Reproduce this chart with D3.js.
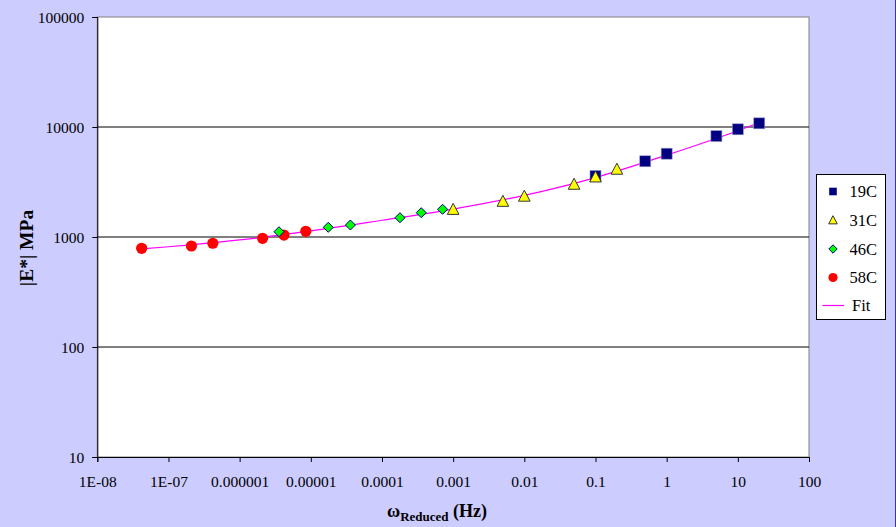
<!DOCTYPE html>
<html><head><meta charset="utf-8">
<script src="https://cdn.jsdelivr.net/npm/d3@7"></script>
<style>body{margin:0;padding:0;background:#ccccff;}svg{display:block;}</style>
</head><body>
<svg id="chart" width="896" height="527"></svg>
<script>
// Data
const freq19 = [0.1, 0.5, 1, 5, 10, 20];
const mod19  = [3590, 4880, 5720, 8270, 9530, 10800];
const freq31 = [0.001, 0.005, 0.01, 0.05, 0.1, 0.2];
const mod31  = [1790, 2120, 2360, 3030, 3530, 4150];
const freq46 = [3.57e-6, 1.76e-5, 3.6e-5, 1.79e-4, 3.56e-4, 7.1e-4];
const mod46  = [1117, 1225, 1285, 1497, 1663, 1786];
const freq58 = [4.2e-8, 2.1e-7, 4.2e-7, 2.1e-6, 4.2e-6, 8.5e-6];
const mod58  = [789, 828, 877, 973, 1042, 1127];
const fitFreq = [4.2e-8, 1e-7, 1e-6, 1e-5, 1e-4, 1e-3, 1e-2, 0.1, 1, 10, 20];
const fitMod  = [780, 815, 940, 1135, 1420, 1795, 2390, 3470, 5550, 9250, 10950];
const xTicks = [1e-8, 1e-7, 1e-6, 1e-5, 1e-4, 1e-3, 1e-2, 0.1, 1, 10, 100];
const xTickLabels = ["1E-08", "1E-07", "0.000001", "0.00001", "0.0001", "0.001", "0.01", "0.1", "1", "10", "100"];
const yTicks = [10, 100, 1000, 10000, 100000];
const yTickLabels = ["10", "100", "1000", "10000", "100000"];
const seriesNames = ["19C", "31C", "46C", "58C", "Fit"];

const svg = d3.select("#chart");
const W = 896, H = 527;
const L = 97.3, R = 809, T = 17, B = 457;
const font = "'Liberation Serif', 'Times New Roman', serif";

svg.append("rect").attr("width", W).attr("height", H).attr("fill", "#ccccff");
svg.append("line").attr("x1", 895.5).attr("x2", 895.5).attr("y1", 0).attr("y2", H)
  .attr("stroke", "#3333cc").attr("stroke-width", 1);

const x = d3.scaleLog().domain([1e-8, 100]).range([L, R]);
const y = d3.scaleLog().domain([10, 100000]).range([B, T]);

// plot area
svg.append("rect").attr("x", L).attr("y", T).attr("width", R - L).attr("height", B - T)
  .attr("fill", "#ffffff").attr("stroke", "#808080").attr("stroke-width", 1);

// gridlines
svg.append("g").selectAll("line").data([100, 1000, 10000]).join("line")
  .attr("x1", L).attr("x2", R).attr("y1", d => y(d)).attr("y2", d => y(d))
  .attr("stroke", "#000").attr("stroke-width", 1);

// axes
const xAxis = d3.axisBottom(x).tickValues(xTicks)
  .tickFormat((d, i) => xTickLabels[i]).tickSize(5);
const gx = svg.append("g").attr("transform", `translate(0,${B})`).call(xAxis);
gx.select(".domain").attr("stroke", "#000");
gx.selectAll(".tick line").attr("stroke", "#000");
gx.selectAll("text").attr("font-family", font).attr("font-size", 15.5).attr("fill", "#000")
  .attr("y", 30).attr("dy", 0);

const yAxis = d3.axisLeft(y).tickValues(yTicks)
  .tickFormat((d, i) => yTickLabels[i]).tickSize(5).tickPadding(8);
const gy = svg.append("g").attr("transform", `translate(${L},0)`).call(yAxis);
gy.select(".domain").attr("stroke", "#000");
gy.selectAll(".tick line").attr("stroke", "#000");
gy.selectAll("text").attr("font-family", font).attr("font-size", 15.5).attr("fill", "#000")
  .attr("dy", "0.35em");

// fit line
const fitData = fitFreq.map((f, i) => [f, fitMod[i]]);
svg.append("path").datum(fitData)
  .attr("d", d3.line().x(d => x(d[0])).y(d => y(d[1])).curve(d3.curveMonotoneX))
  .attr("fill", "none").attr("stroke", "#ff00ff").attr("stroke-width", 1.2);

const zip = (a, b) => a.map((v, i) => [v, b[i]]);
const plot = svg.append("g");

// 58C circles
plot.append("g").selectAll("circle").data(zip(freq58, mod58)).join("circle")
  .attr("cx", d => x(d[0])).attr("cy", d => y(d[1])).attr("r", 5.6)
  .attr("fill", "#ff0000");

// 46C diamonds
const diamond = s => `M0,${-s}L${s},0L0,${s}L${-s},0Z`;
plot.append("g").selectAll("path").data(zip(freq46, mod46)).join("path")
  .attr("transform", d => `translate(${x(d[0])},${y(d[1])})`)
  .attr("d", diamond(5)).attr("fill", "#00ff00").attr("stroke", "#000080").attr("stroke-width", 1);

// 19C squares
plot.append("g").selectAll("rect").data(zip(freq19, mod19)).join("rect")
  .attr("x", d => x(d[0]) - 5.5).attr("y", d => y(d[1]) - 5.5)
  .attr("width", 11).attr("height", 11)
  .attr("fill", "#000080").attr("stroke", "#9999cc").attr("stroke-width", 0.6);

// 31C triangles
const tri = s => `M0,${-s}L${s},${s * 0.9}L${-s},${s * 0.9}Z`;
plot.append("g").selectAll("path").data(zip(freq31, mod31)).join("path")
  .attr("transform", d => `translate(${x(d[0])},${y(d[1])})`)
  .attr("d", tri(5.8)).attr("fill", "#ffff00").attr("stroke", "#333333").attr("stroke-width", 1);

// legend
const lg = svg.append("g");
lg.append("rect").attr("x", 816.5).attr("y", 174.5).attr("width", 69).attr("height", 145)
  .attr("fill", "#fff").attr("stroke", "#000").attr("stroke-width", 1);
const rowY = [191.5, 220, 249, 277.5, 305.5];
const symX = 833;
lg.append("rect").attr("x", symX - 3.8).attr("y", rowY[0] - 3.8).attr("width", 7.6).attr("height", 7.6).attr("fill", "#000080");
lg.append("path").attr("transform", `translate(${symX},${rowY[1]})`).attr("d", tri(4.3))
  .attr("fill", "#ffff00").attr("stroke", "#333").attr("stroke-width", 1);
lg.append("path").attr("transform", `translate(${symX},${rowY[2]})`).attr("d", diamond(4.2))
  .attr("fill", "#00ff00").attr("stroke", "#000080").attr("stroke-width", 1);
lg.append("circle").attr("cx", symX).attr("cy", rowY[3]).attr("r", 4.6).attr("fill", "#ff0000");
lg.append("line").attr("x1", 822.5).attr("x2", 844).attr("y1", rowY[4]).attr("y2", rowY[4])
  .attr("stroke", "#ff00ff").attr("stroke-width", 1.2);
lg.selectAll("text.lab").data(seriesNames).join("text").attr("class", "lab")
  .attr("x", (d, i) => i === 4 ? 852 : 849.5).attr("y", (d, i) => rowY[i] + 5.5)
  .attr("font-family", font).attr("font-size", 16.5).attr("fill", "#000").text(d => d);

// axis titles
svg.append("text").attr("transform", "translate(33,248) rotate(-90)")
  .attr("text-anchor", "middle").attr("font-family", font).attr("font-weight", "bold")
  .attr("font-size", 19.5).attr("fill", "#000").text("|E*| MPa");

const xt = svg.append("text").attr("x", 437).attr("y", 517).attr("text-anchor", "middle")
  .attr("font-family", font).attr("font-weight", "bold").attr("fill", "#000").attr("font-size", 18);
xt.append("tspan").text("ω");
xt.append("tspan").attr("font-size", 13).attr("dy", 4).text("Reduced");
xt.append("tspan").attr("dy", -4).text(" (Hz)");
</script>
</body></html>
